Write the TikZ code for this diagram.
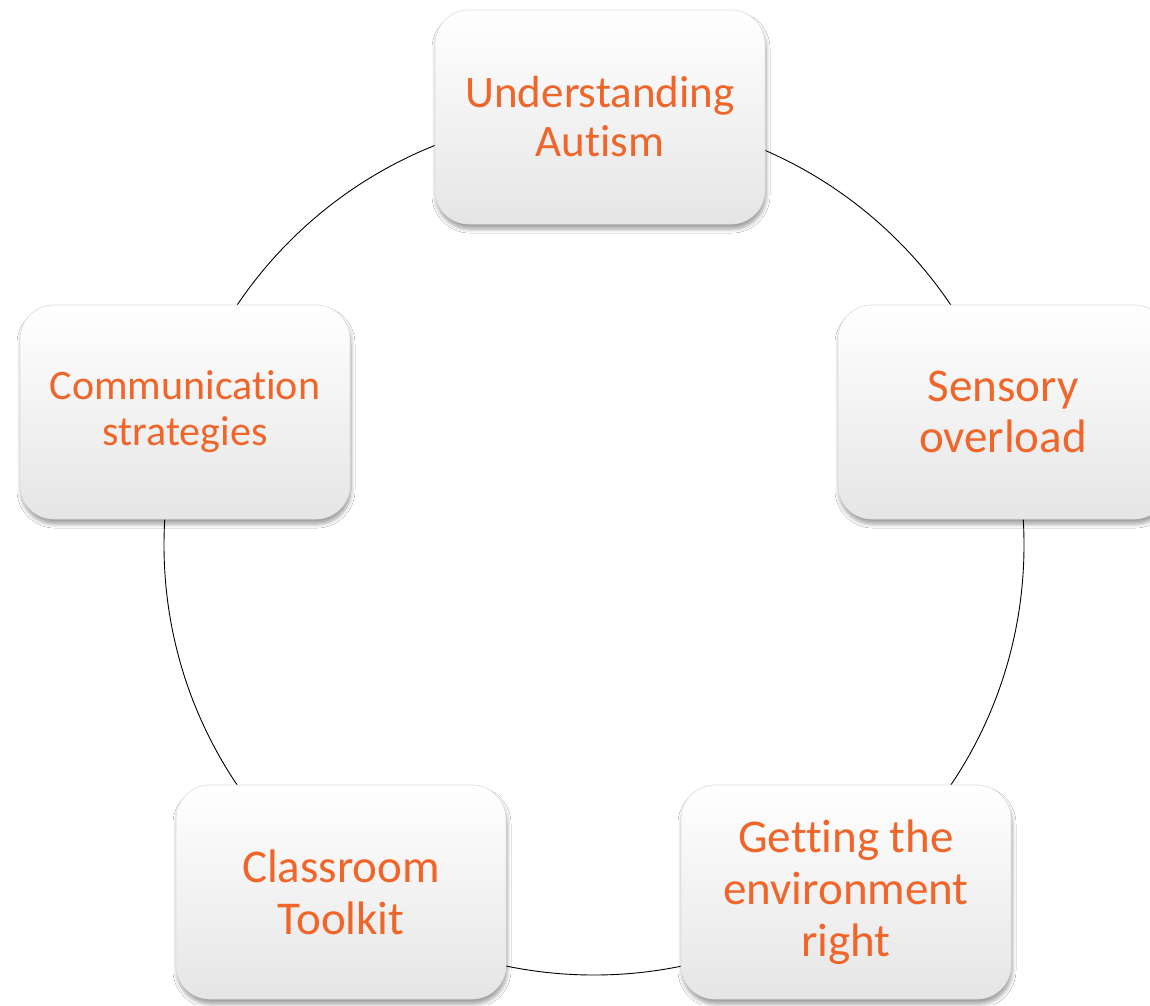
\documentclass[tikz,border=0pt]{standalone}
\usepackage{fontspec}
\setmainfont[RawFeature={-liga;-clig;-dlig;-calt}]{Carlito}
\usetikzlibrary{shadows.blur}
\definecolor{topicorange}{RGB}{240,101,41}
\begin{document}
\begin{tikzpicture}[x=1pt,y=-1pt,
  topic/.style={draw=black!12, line width=0.7pt, rounded corners=34pt,
    minimum width=330pt, minimum height=214pt, align=center,
    top color=white, middle color=white, bottom color=black!10,
    text=topicorange,
    blur shadow={shadow xshift=1pt, shadow yshift=-5pt, shadow blur steps=6,
      shadow blur radius=4pt, shadow opacity=38}},
  ring/.style={draw=black, line width=0.9pt}]
  \useasboundingbox (0,0) rectangle (1150,1005);
  \fill[white] (0,0) rectangle (1150,1005);
  % the cycle that links the topics
  \draw[ring] (594,545) circle[radius=430];
  % the five topics
  \node[topic, font=\fontsize{45}{49}\selectfont] (understand) at (600,117) {Understanding\\Autism};
  \node[topic, font=\fontsize{47}{51}\selectfont] (sensory) at (1003,412) {Sensory\\overload};
  \node[topic, font=\fontsize{47}{52}\selectfont] (environment) at (846,892) {Getting the\\environment\\right};
  \node[topic, font=\fontsize{47}{52}\selectfont] (toolkit) at (341,892) {Classroom\\Toolkit};
  \node[topic, font=\fontsize{42}{46}\selectfont] (communication) at (185,412) {Communication\\strategies};
\end{tikzpicture}
\end{document}
